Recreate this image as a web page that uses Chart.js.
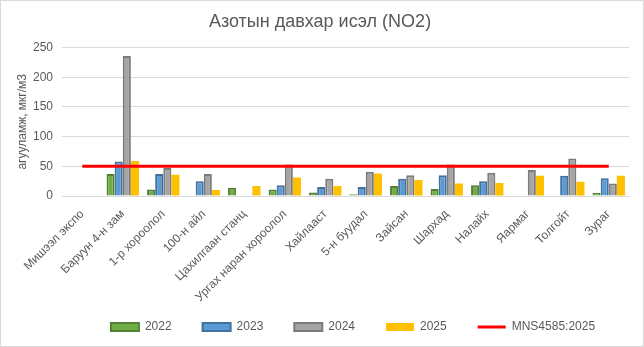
<!DOCTYPE html>
<html>
<head>
<meta charset="utf-8">
<script src="https://cdn.jsdelivr.net/npm/chart.js@4/dist/chart.umd.min.js"></script>
<style>
    html, body { margin: 0; padding: 0; background: #fff; }
    #wrap {
        position: relative;
        width: 644px;
        height: 347px;
        box-sizing: border-box;
        border: 1px solid #d9d9d9;
    }
</style>
</head>
<body>
<div id="wrap"><canvas id="chart"></canvas></div>
<script>
    "use strict";

    // Станцууд
    const categories = [
        'Мишээл экспо', 'Баруун 4-н зам', '1-р хороолол', '100-н айл',
        'Цахилгаан станц', 'Ургах наран хороолол', 'Хайлааст', '5-н буудал',
        'Зайсан', 'Шархад', 'Налайх', 'Яармаг', 'Толгойт', 'Зураг'
    ];

    // NO2, мкг/м3 (зургаас уншсан ойролцоо утга)
    const v2022 = [null, 37, 11, null, 14, 11, 6, 3, 17, 12, 18, null, null, 5];
    const v2023 = [null, 58, 37, 25, null, 18, 15, 15, 29, 35, 25, null, 34, 30];
    const v2024 = [null, 236, 47, 37, null, 53, 29, 41, 35, 53, 39, 44, 63, 21];
    const v2025 = [null, 59, 36, 10, 17, 31, 17, 38, 27, 21, 22, 34, 24, 34];
    const standard = [50, 50, 50, 50, 50, 50, 50, 50, 50, 50, 50, 50, 50, 50];

    const yTicks = [0, 50, 100, 150, 200, 250];

    const LEGEND_DX = 33;

    Chart.defaults.font.family = "'Liberation Sans', Arial, sans-serif";
    Chart.defaults.font.size = 12;
    Chart.defaults.color = '#595959';

    // Excel-ийн домгийг бага зэрэг баруун тийш шилжүүлж,
    // урт тэнхлэгийн нэрс тасрахгүйн тулд x тэнхлэгийн доод хилийг уртасгана
    const layoutTweak = {
        id: 'layoutTweak',
        afterLayout(chart) {
            chart.legend.left += LEGEND_DX;
            chart.legend.right += LEGEND_DX;
            chart.scales.x.bottom += 20;
        }
    };

    function barSet(label, data, fill, border, width) {
        return {
            type: 'bar',
            label: label,
            data: data,
            backgroundColor: fill,
            borderColor: border,
            borderWidth: width,
            order: 1,
            categoryPercentage: 0.8,
            barPercentage: 1.0
        };
    }

    const ctx = document.getElementById('chart').getContext('2d');
    new Chart(ctx, {
        data: {
            labels: categories,
            datasets: [
                barSet('2022', v2022, '#70AD47', '#548235', 2),
                barSet('2023', v2023, '#5B9BD5', '#41719C', 2),
                barSet('2024', v2024, '#A5A5A5', '#7B7B7B', 2),
                barSet('2025', v2025, '#FFC000', '#FFC000', 0),
                {
                    type: 'line',
                    label: 'MNS4585:2025',
                    data: standard,
                    borderColor: '#FF0000',
                    backgroundColor: '#FF0000',
                    borderWidth: 3,
                    pointRadius: 0,
                    order: 0
                }
            ]
        },
        options: {
            responsive: true,
            maintainAspectRatio: false,
            animation: false,
            layout: { padding: { left: 10, right: 14, top: 8, bottom: 3 } },
            plugins: {
                title: {
                    display: true,
                    text: 'Азотын давхар исэл (NO2)',
                    color: '#595959',
                    font: { size: 18, weight: 'normal' },
                    padding: { top: 2, bottom: 15 }
                },
                legend: {
                    position: 'bottom',
                    labels: {
                        usePointStyle: true,
                        pointStyleWidth: 28,
                        boxHeight: 8,
                        padding: 31,
                        color: '#595959',
                        sort: (a, b) => a.datasetIndex - b.datasetIndex,
                        generateLabels(chart) {
                            const items = Chart.defaults.plugins.legend.labels.generateLabels(chart);
                            items.forEach((it) => {
                                const ds = chart.data.datasets[it.datasetIndex];
                                if (ds.type === 'line') {
                                    it.pointStyle = 'line';
                                    it.lineWidth = 3;
                                    it.strokeStyle = ds.borderColor;
                                } else {
                                    it.pointStyle = 'rect';
                                }
                            });
                            return items;
                        }
                    }
                },
                tooltip: { enabled: false }
            },
            scales: {
                x: {
                    grid: { display: false },
                    border: { display: true, color: '#d9d9d9' },
                    ticks: {
                        autoSkip: false,
                        maxRotation: 45,
                        minRotation: 45,
                        padding: 3
                    },
                    afterFit(scale) {
                        scale.height = 94;
                        scale.paddingLeft = 0;
                        scale.paddingRight = 0;
                    }
                },
                y: {
                    min: 0,
                    max: 250,
                    afterBuildTicks(scale) {
                        scale.ticks = yTicks.map((v) => ({ value: v }));
                    },
                    afterFit(scale) {
                        scale.width = 51;
                    },
                    grid: { color: '#d9d9d9', drawTicks: false },
                    border: { display: false },
                    ticks: { padding: 9 },
                    title: {
                        display: true,
                        text: 'агууламж, мкг/м3',
                        font: { size: 12 }
                    }
                }
            }
        },
        plugins: [layoutTweak]
    });
</script>
</body>
</html>
